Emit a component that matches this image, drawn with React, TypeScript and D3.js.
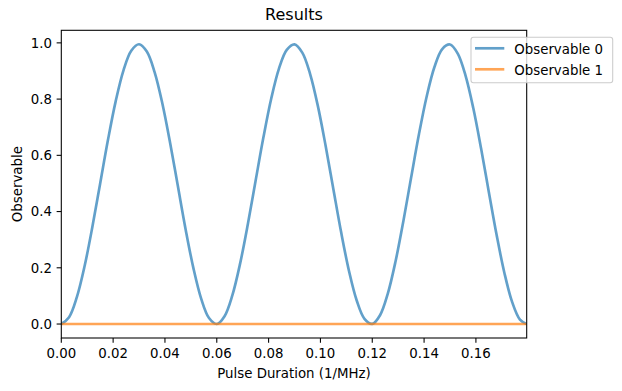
import React from "react";
import * as d3 from "d3";

const xValues: number[] = [
  0.0, 0.003, 0.006, 0.009, 0.012, 0.015, 0.018, 0.021, 0.024, 0.027,
  0.03, 0.033, 0.036, 0.039, 0.042, 0.045, 0.048, 0.051, 0.054, 0.057,
  0.06, 0.063, 0.066, 0.069, 0.072, 0.075, 0.078, 0.081, 0.084, 0.087,
  0.09, 0.093, 0.096, 0.099, 0.102, 0.105, 0.108, 0.111, 0.114, 0.117,
  0.12, 0.123, 0.126, 0.129, 0.132, 0.135, 0.138, 0.141, 0.144, 0.147,
  0.15, 0.153, 0.156, 0.159, 0.162, 0.165, 0.168, 0.171, 0.174, 0.177,
  0.1796,
];

const observable0: number[] = [
  0.0, 0.0245, 0.0956, 0.2064, 0.3458, 0.5001, 0.6543, 0.7928, 0.9024, 0.972,
  0.995, 0.9689, 0.8963, 0.7845, 0.6442, 0.4897, 0.3357, 0.1979, 0.0896, 0.0214,
  0.0001, 0.0278, 0.1018, 0.2149, 0.3557, 0.5105, 0.664, 0.8013, 0.9084, 0.975,
  0.9948, 0.9653, 0.8899, 0.7758, 0.6341, 0.4794, 0.326, 0.1897, 0.0837, 0.0185,
  0.0004, 0.0314, 0.1082, 0.2235, 0.3658, 0.521, 0.6738, 0.8093, 0.9141, 0.978,
  0.9943, 0.9619, 0.8835, 0.7672, 0.6242, 0.4688, 0.3164, 0.1816, 0.078, 0.0158,
  0.0001,
];

const observable1: number[] = xValues.map(() => 0);

const seriesNames = ["Observable 0", "Observable 1"];
const seriesColors = ["#1f77b4", "#ff7f0e"];
const xTicks = [0, 0.02, 0.04, 0.06, 0.08, 0.1, 0.12, 0.14, 0.16];
const yTicks = [0, 0.2, 0.4, 0.6, 0.8, 1.0];

const W = 622;
const H = 391;
const left = 61.3;
const right = 526.7;
const top = 30.3;
const bottom = 338;
const FONT = "DejaVu Sans, sans-serif";
const FS = 13.33;
const LW = 2.67;

export default function App() {
  const x = d3.scaleLinear().domain([0, 0.1796]).range([left, right]);
  const y = d3.scaleLinear().domain([-0.0497, 1.0447]).range([bottom, top]);
  const line = d3
    .line<number>()
    .x((_, i) => x(xValues[i]))
    .y((d) => y(d))
    .curve(d3.curveCatmullRom.alpha(0.5));

  const series = [observable0, observable1];

  const lx = 471;
  const ly = 37.3;
  const lw = 141.7;
  const lh = 45.4;

  return (
    <svg
      width={W}
      height={H}
      style={{ position: "absolute", left: 0, top: 0, background: "#fff" }}
      fontFamily={FONT}
    >
      <rect x={0} y={0} width={W} height={H} fill="#fff" />
      <defs>
        <clipPath id="plotclip">
          <rect x={left} y={top} width={right - left} height={bottom - top} />
        </clipPath>
      </defs>
      <g clipPath="url(#plotclip)">
        {series.map((s, i) => (
          <path
            key={i}
            d={line(s) || ""}
            fill="none"
            stroke={seriesColors[i]}
            strokeOpacity={0.7}
            strokeWidth={LW}
            strokeLinejoin="round"
            strokeLinecap="butt"
          />
        ))}
      </g>
      <rect
        x={left}
        y={top}
        width={right - left}
        height={bottom - top}
        fill="none"
        stroke="#000"
        strokeWidth={1.07}
      />
      {xTicks.map((t) => (
        <g key={"x" + t} transform={`translate(${x(t)},${bottom})`}>
          <line y1={0} y2={4.67} stroke="#000" strokeWidth={1.07} />
          <text y={20.4} textAnchor="middle" fontSize={FS} fill="#000">
            {d3.format(".2f")(t)}
          </text>
        </g>
      ))}
      {yTicks.map((t) => (
        <g key={"y" + t} transform={`translate(${left},${y(t)})`}>
          <line x1={0} x2={-4.67} stroke="#000" strokeWidth={1.07} />
          <text x={-9.3} dy="0.3645em" textAnchor="end" fontSize={FS} fill="#000">
            {d3.format(".1f")(t)}
          </text>
        </g>
      ))}
      <text x={(left + right) / 2} y={20} textAnchor="middle" fontSize={16} fill="#000">
        Results
      </text>
      <text x={(left + right) / 2} y={377.7} textAnchor="middle" fontSize={FS} fill="#000">
        Pulse Duration (1/MHz)
      </text>
      <text
        transform={`translate(22.3,${(top + bottom) / 2}) rotate(-90)`}
        textAnchor="middle"
        fontSize={FS}
        fill="#000"
      >
        Observable
      </text>
      <rect
        x={lx}
        y={ly}
        width={lw}
        height={lh}
        rx={2.5}
        fill="#fff"
        fillOpacity={0.8}
        stroke="#cccccc"
        strokeWidth={1.07}
      />
      {seriesNames.map((n, i) => (
        <g key={n}>
          <line
            x1={475}
            x2={504.3}
            y1={48.3 + i * 21}
            y2={48.3 + i * 21}
            stroke={seriesColors[i]}
            strokeOpacity={0.7}
            strokeWidth={LW}
          />
          <text x={514.3} y={54 + i * 21} fontSize={FS} fill="#000">
            {n}
          </text>
        </g>
      ))}
    </svg>
  );
}
